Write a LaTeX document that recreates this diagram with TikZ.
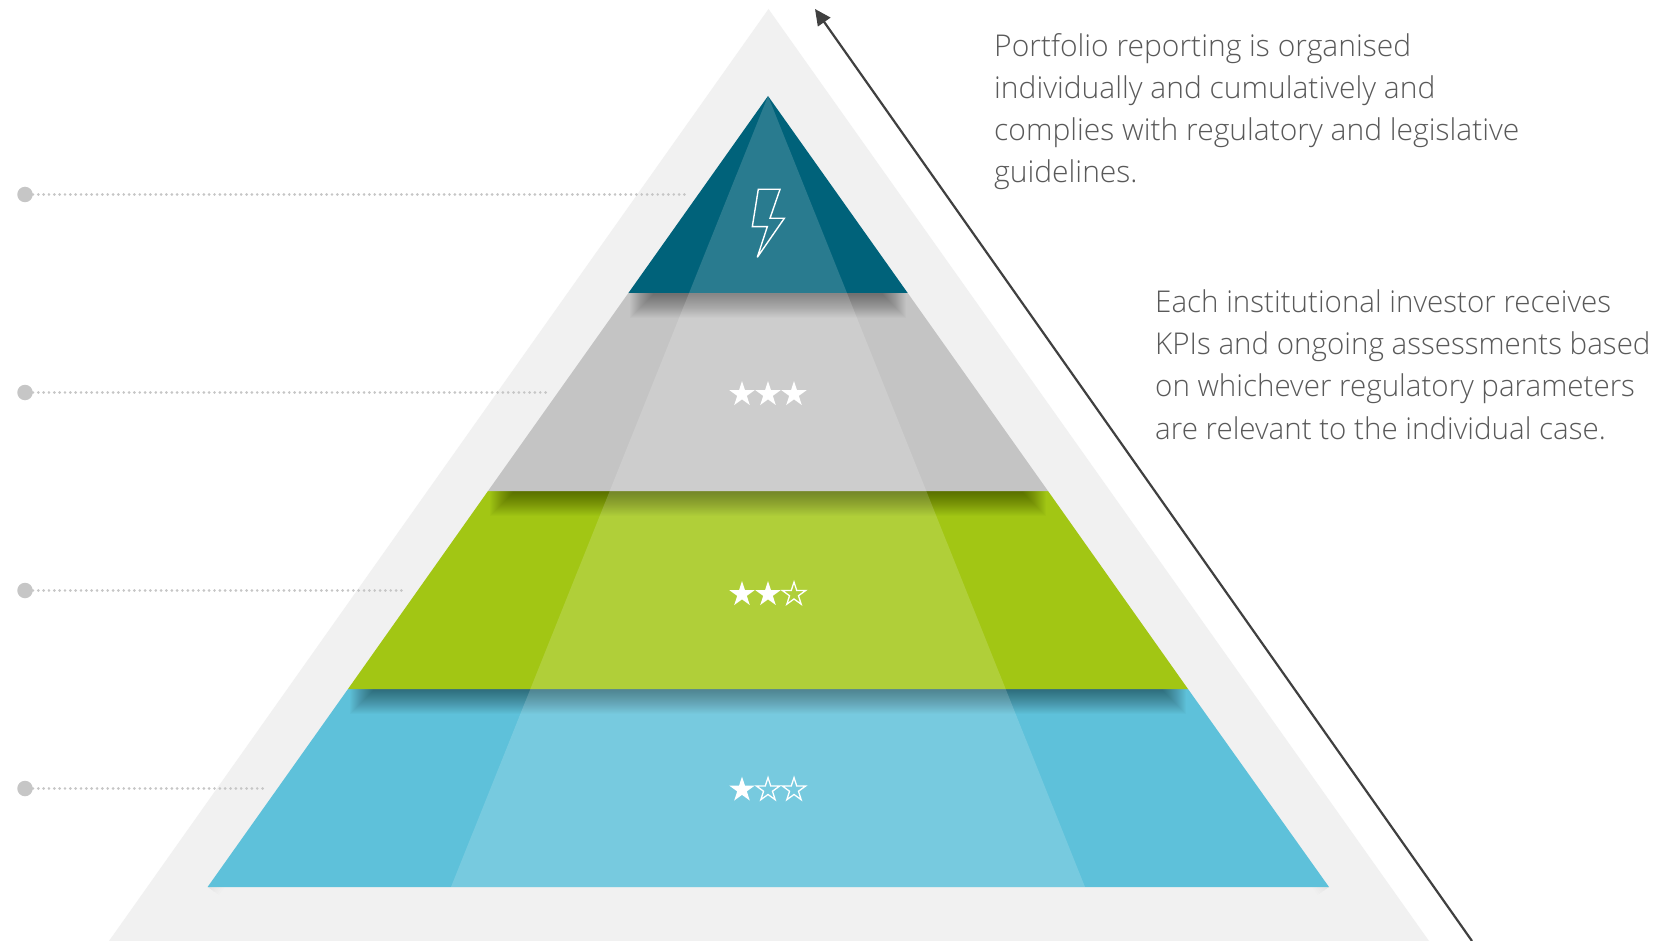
\documentclass[tikz,border=0pt]{standalone}
\usepackage{fontspec}
\setmainfont{Open Sans}[UprightFont={* Light}]
\newfontfamily\paraa{Open Sans}[UprightFont={* Light},FakeStretch=1.0]
\newfontfamily\parab{Open Sans}[UprightFont={* Light},FakeStretch=0.985]
\usetikzlibrary{shapes.geometric,arrows.meta}
\definecolor{outerg}{HTML}{F1F1F1}
\definecolor{teal1}{HTML}{00627A}
\definecolor{gray1}{HTML}{C4C4C4}
\definecolor{green1}{HTML}{A2C614}
\definecolor{blue1}{HTML}{5EC1DA}
\definecolor{dotg}{HTML}{C6C6C6}
\definecolor{txt}{HTML}{595959}
\definecolor{arrowc}{HTML}{404040}
\tikzset{
  x=1pt,y=-1pt,
  leaderdot/.style={circle,fill=dotg,inner sep=0,minimum size=15.5pt},
  leaderline/.style={draw=dotg,line width=2.9pt,line cap=round,dash pattern=on 0.01pt off 5.33pt},
  fullstar/.style={star,star points=5,star point ratio=2.618,fill=white,inner sep=0,minimum size=26.5pt},
  openstar/.style={star,star points=5,star point ratio=2.618,draw=white,line width=1.3pt,inner sep=0,minimum size=24.5pt},
  para/.style={anchor=north west,align=left,inner sep=0,text=txt},
}
\newcommand{\layershadow}[4]{% clip polygon, x1, x2, y
  \begin{scope}
    \clip #1;
    \foreach \i in {0,...,23}{
      \fill[black,opacity=0.019] (#2+\i*1.0,#4) rectangle (#3-\i*1.0,#4+25-\i*1.0);
    }
  \end{scope}
}
\begin{document}
\begin{tikzpicture}
\useasboundingbox (0,0) rectangle (1678,941);
\fill[white] (0,0) rectangle (1678,941);
% outer triangle
\fill[outerg] (768.5,9) -- (1429,941) -- (109,941) -- cycle;
% leaders
\node[leaderdot] (d1) at (25,194.5) {};
\node[leaderdot] (d2) at (25,392.5) {};
\node[leaderdot] (d3) at (25,590.5) {};
\node[leaderdot] (d4) at (25,788.5) {};
\coordinate (e1) at (687,194.5);
\coordinate (e2) at (549,392.5);
\coordinate (e3) at (404,590.5);
\coordinate (e4) at (265,788.5);
\draw[leaderline] (d1) -- (e1);
\draw[leaderline] (d2) -- (e2);
\draw[leaderline] (d3) -- (e3);
\draw[leaderline] (d4) -- (e4);
% soft glow along the slanted sides
\begin{scope}
  \clip (768.5,9) -- (1429,941) -- (109,941) -- (109,887) -- (1429,887) -- cycle;
  \foreach \w in {4,8,...,28}{
    \draw[black,opacity=0.008,line width=\w pt,line join=round] (207.6,887) -- (768,96) -- (1329,887);
  }
\end{scope}
% layers
\fill[blue1] (348,689) -- (1188,689) -- (1329,887) -- (207.6,887) -- cycle;
\layershadow{(348,689) -- (1188,689) -- (1329,887) -- (207.6,887) -- cycle}{350}{1186}{689}
\fill[green1] (488,491) -- (1048,491) -- (1188,689) -- (348,689) -- cycle;
\layershadow{(488,491) -- (1048,491) -- (1188,689) -- (348,689) -- cycle}{490}{1046}{491}
\fill[gray1] (628.4,293) -- (907.7,293) -- (1048,491) -- (488,491) -- cycle;
\layershadow{(628.4,293) -- (907.7,293) -- (1048,491) -- (488,491) -- cycle}{630}{906}{293}
\fill[teal1] (768,96) -- (907.7,293) -- (628.4,293) -- cycle;
% highlight
\fill[white,opacity=0.16] (768,96) -- (1085,887) -- (451,887) -- cycle;
% bolt
\draw[white,line width=1.4pt,line join=miter,miter limit=2.5] (758.3,189.3) -- (780,189.3) -- (770,218.3) -- (784.3,218.3) -- (757.3,257.3) -- (767.3,226.7) -- (752.3,226.7) -- cycle;
% stars
\node[fullstar] (s11) at (742,394.3) {};
\node[fullstar] (s12) at (768,394.3) {};
\node[fullstar] (s13) at (794,394.3) {};
\node[fullstar] (s21) at (742,594.3) {};
\node[fullstar] (s22) at (768,594.3) {};
\node[openstar] (s23) at (794,594.3) {};
\node[fullstar] (s31) at (742,789.8) {};
\node[openstar] (s32) at (768,789.8) {};
\node[openstar] (s33) at (794,789.8) {};
% arrow
\coordinate (a0) at (1472,941);
\coordinate (a1) at (815,9);
\draw[arrowc,line width=2.2pt,-{Triangle[length=16pt,width=15pt]}] (a0) -- (a1);
% text
\node[para,font=\paraa\fontsize{30}{42.2}\selectfont] (t1) at (994,33.2) {Portfolio reporting is organised\\individually and cumulatively and\\complies with regulatory and legislative\\guidelines.};
\node[para,font=\parab\fontsize{30}{42.2}\selectfont] (t2) at (1155,289.5) {Each institutional investor receives\\KPIs and ongoing assessments based\\on whichever regulatory parameters\\are relevant to the individual case.};
\end{tikzpicture}
\end{document}
